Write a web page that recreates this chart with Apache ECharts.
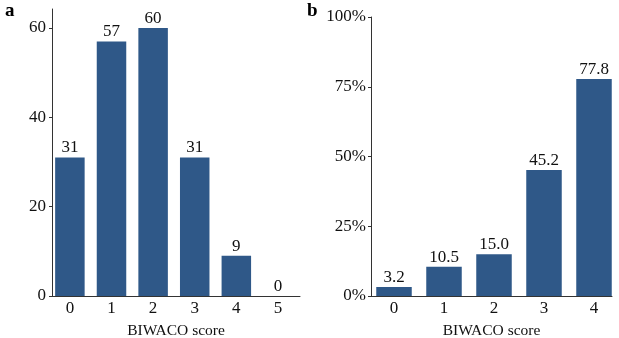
<!DOCTYPE html>
<html>
<head>
<meta charset="utf-8">
<script src="https://cdn.jsdelivr.net/npm/echarts@6/dist/echarts.min.js"></script>
<style>
html,body{margin:0;padding:0;background:#fff;}
#c{width:619px;height:338px;}
</style>
</head>
<body>
<div id="c"></div>
<script>
// Panel a: counts by BIWACO score
var scoresA = [0, 1, 2, 3, 4, 5];
var countsA = [31, 57, 60, 31, 9, 0];
// Panel b: percentage by BIWACO score
var scoresB = [0, 1, 2, 3, 4];
var pctB = [3.2, 10.5, 15.0, 45.2, 77.8];
var yTicksA = [0, 20, 40, 60];
var yTicksB = ['0%', '25%', '50%', '75%', '100%'];

var FONT = 'Liberation Serif';
var BAR = '#2F5888';
var AXIS = '#333';
var FS = 17;

var chart = echarts.init(document.getElementById('c'), null, {renderer: 'canvas'});

function intLabel(v) {
  return Math.abs(v - Math.round(v)) < 1e-6 ? String(Math.round(v)) : '';
}

var option = {
  animation: false,
  backgroundColor: '#fff',
  textStyle: {fontFamily: FONT},
  title: [
    {text: 'a', left: 0, top: -3, textStyle: {fontFamily: FONT, fontWeight: 'bold', fontSize: 19, color: '#000'}},
    {text: 'b', left: 302, top: -3, textStyle: {fontFamily: FONT, fontWeight: 'bold', fontSize: 19, color: '#000'}}
  ],
  grid: [
    {left: 52, top: 9, width: 248, height: 287, outerBoundsMode: 'none', containLabel: false},
    {left: 371, top: 17, width: 241, height: 279, outerBoundsMode: 'none', containLabel: false}
  ],
  xAxis: [
    {
      gridIndex: 0, type: 'value', min: -0.43, max: 5.53, splitNumber: 6,
      name: 'BIWACO score', nameLocation: 'middle', nameGap: 27,
      nameTextStyle: {fontFamily: FONT, fontSize: 15.5, color: '#111'},
      axisLine: {show: true, onZero: false, lineStyle: {color: AXIS, width: 1}},
      axisTick: {show: false},
      splitLine: {show: false},
      axisLabel: {fontFamily: FONT, fontSize: FS, color: '#111', margin: 4, formatter: intLabel}
    },
    {
      gridIndex: 1, type: 'value', min: -0.46, max: 4.36, splitNumber: 5,
      name: 'BIWACO score', nameLocation: 'middle', nameGap: 27,
      nameTextStyle: {fontFamily: FONT, fontSize: 15.5, color: '#111'},
      axisLine: {show: true, onZero: false, lineStyle: {color: AXIS, width: 1}},
      axisTick: {show: false},
      splitLine: {show: false},
      axisLabel: {fontFamily: FONT, fontSize: FS, color: '#111', margin: 4, formatter: intLabel}
    }
  ],
  yAxis: [
    {
      gridIndex: 0, type: 'value', min: 0, max: 64.25, interval: 20,
      axisLine: {show: true, onZero: false, lineStyle: {color: AXIS, width: 1}},
      axisTick: {show: true, length: 3, lineStyle: {color: AXIS}},
      splitLine: {show: false},
      axisLabel: {fontFamily: FONT, fontSize: FS, color: '#111', margin: 6, showMaxLabel: false,
        formatter: function (v) { return yTicksA.indexOf(v) >= 0 ? String(v) : ''; }}
    },
    {
      gridIndex: 1, type: 'value', min: 0, max: 100, interval: 25,
      axisLine: {show: true, onZero: false, lineStyle: {color: AXIS, width: 1}},
      axisTick: {show: true, length: 3, lineStyle: {color: AXIS}},
      splitLine: {show: false},
      axisLabel: {fontFamily: FONT, fontSize: FS, color: '#111', margin: 5,
        formatter: function (v) { return yTicksB[Math.round(v / 25)] || ''; }}
    }
  ],
  series: [
    {
      type: 'bar', xAxisIndex: 0, yAxisIndex: 0, barWidth: 29.5,
      data: scoresA.map(function (s, i) { return [s, countsA[i]]; }),
      itemStyle: {color: BAR},
      label: {show: true, position: 'top', distance: 1, fontFamily: FONT, fontSize: FS, color: '#111',
        formatter: function (p) { return String(p.value[1]); }}
    },
    {
      type: 'bar', xAxisIndex: 1, yAxisIndex: 1, barWidth: 35.5,
      data: scoresB.map(function (s, i) { return [s, pctB[i]]; }),
      itemStyle: {color: BAR},
      label: {show: true, position: 'top', distance: 1, fontFamily: FONT, fontSize: FS, color: '#111',
        formatter: function (p) { return p.value[1].toFixed(1); }}
    }
  ]
};
chart.setOption(option);
</script>
</body>
</html>
